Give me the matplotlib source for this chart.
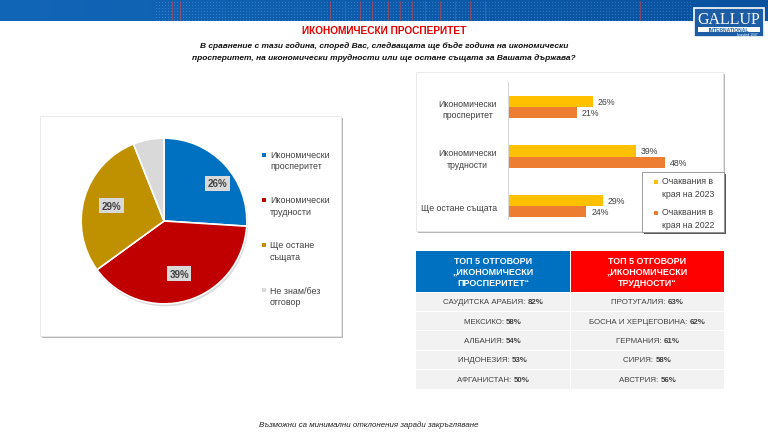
import matplotlib.pyplot as plt
import numpy as np
from matplotlib.patches import Rectangle, Circle

plt.rcParams['font.family'] = ['Liberation Sans', 'DejaVu Sans']

# --- данни ---
title = 'ИКОНОМИЧЕСКИ ПРОСПЕРИТЕТ'
question = ['В сравнение с тази година, според Вас, следващата ще бъде година на икономически',
            'просперитет, на икономически трудности или ще остане същата за Вашата държава?']
note = 'Възможни са минимални отклонения заради закръгляване'

pie_labels = ['Икономически\nпросперитет', 'Икономически\nтрудности', 'Ще остане\nсъщата', 'Не знам/без\nотговор']
pie_values = [26, 39, 29, 6]
pie_colors = ['#0070C0', '#C00000', '#BF9000', '#D9D9D9']

bar_cats = ['Икономически\nпросперитет', 'Икономически\nтрудности', 'Ще остане същата']
exp_2023 = [26, 39, 29]
exp_2022 = [21, 48, 24]
bar_series = ['Очаквания в\nкрая на 2023', 'Очаквания в\nкрая на 2022']
bar_colors = ['#FFC000', '#ED7D31']

head_prosp = 'ТОП 5 ОТГОВОРИ\n„ИКОНОМИЧЕСКИ\nПРОСПЕРИТЕТ“'
countries_prosp = ['САУДИТСКА АРАБИЯ', 'МЕКСИКО', 'АЛБАНИЯ', 'ИНДОНЕЗИЯ', 'АФГАНИСТАН']
values_prosp = [82, 58, 54, 53, 50]
head_diff = 'ТОП 5 ОТГОВОРИ\n„ИКОНОМИЧЕСКИ\nТРУДНОСТИ“'
countries_diff = ['ПРОТУГАЛИЯ', 'БОСНА И ХЕРЦЕГОВИНА', 'ГЕРМАНИЯ', 'СИРИЯ', 'АВСТРИЯ']
values_diff = [63, 62, 61, 58, 56]

W, H = 768, 435
TXT = '#404040'

fig = plt.figure(figsize=(W / 100, H / 100), dpi=100)

# фон в пиксели
bg = fig.add_axes([0, 0, 1, 1])
bg.set_axis_off()

# банер отгоре
cols = np.linspace(0, 1, W)
base = np.zeros((22, W, 3))
base[..., 0] = 0.07 - 0.03 * cols
base[..., 1] = 0.40 - 0.08 * cols
base[..., 2] = 0.72 - 0.10 * cols
dots = np.zeros((22, W))
dots[::3, ::3] = 1
mask = ((cols > 0.2) & (cols < 0.9)).astype(float)
base += (dots * mask * 0.12)[..., None]
bg.imshow(np.clip(base, 0, 1), extent=(0, W, 22, 0), aspect='auto', zorder=0)
for xr in [172, 180, 330, 345, 360, 372, 388, 400, 412, 425, 440, 455, 470, 485, 640]:
    bg.plot([xr, xr], [2, 21], color='#d04040', lw=0.6, alpha=0.7)
bg.set_xlim(0, W)
bg.set_ylim(H, 0)

# лого
bg.add_patch(Rectangle((694, 9), 70, 29, fc='#1c5da6', ec='white', lw=1.2, zorder=3))
bg.text(729, 19.5, 'GALLUP', color='white', fontsize=11.5, family='Liberation Serif',
        ha='center', va='center', zorder=4)
bg.add_patch(Rectangle((698, 27.5), 62, 5, fc='white', ec='none', zorder=4))
bg.text(729, 30.2, 'INTERNATIONAL', color='#1c5da6', fontsize=3.6, weight='bold',
        ha='center', va='center', zorder=5)
bg.text(758, 35.5, 'founded 1947', color='white', fontsize=2.4, ha='right', va='center', zorder=5)

# заглавие
bg.text(384, 31, title, color='#E30000', fontsize=7.3, weight='bold', ha='center', va='center')
for i, line in enumerate(question):
    bg.text(384, 46 + 12 * i, line, fontsize=6.0, weight='bold', style='italic',
            ha='center', va='center', color='#111111')

# панели със сянка
def panel(x0, y0, x1, y1, shade='#b8b8b8', edge='#e6e6e6', z=1):
    bg.add_patch(Rectangle((x0 + 2, y0 + 2), x1 - x0, y1 - y0, fc=shade, ec='none', zorder=z))
    bg.add_patch(Rectangle((x0, y0), x1 - x0, y1 - y0, fc='white', ec=edge, lw=0.6, zorder=z + 0.1))

panel(40, 117, 341, 337)
panel(416, 73, 723, 232)

# --- кръгова диаграма ---
cx, cy, r = 164, 222, 87
pax = fig.add_axes([(cx - r) / W, 1 - (cy + r) / H, 2 * r / W, 2 * r / H])
pax.add_patch(Circle((0.015, -0.03), 1.0, fc='#9a9a9a', ec='none', alpha=0.35, zorder=0))
wedges, _ = pax.pie(pie_values, colors=pie_colors, startangle=90, counterclock=False,
                    wedgeprops=dict(edgecolor='white', linewidth=1.2))
pax.set_xlim(-1.05, 1.05)
pax.set_ylim(-1.05, 1.05)
pax.set_aspect('equal')
for w, v in zip(wedges[:3], pie_values[:3]):
    ang = np.deg2rad((w.theta1 + w.theta2) / 2 - (8 if v < 27 else 0))
    d = 0.79 if v < 27 else 0.66
    pax.text(d * np.cos(ang), d * np.sin(ang), f'{v}%', fontsize=7, weight='bold', color=TXT,
             ha='center', va='center',
             bbox=dict(boxstyle='square,pad=0.25', fc='#d9d9d9', ec='none'))

for i, (lab, col) in enumerate(zip(pie_labels, pie_colors)):
    yy = 161 + 45.3 * i
    bg.add_patch(Rectangle((261.5, yy - 7.5), 4, 4, fc=col, ec='none', zorder=3))
    bg.text(270, yy, lab, fontsize=6.4, color=TXT, ha='left', va='center', linespacing=1.35, zorder=3)

# --- хоризонтални стълбове ---
bax = fig.add_axes([508 / W, 1 - 232 / H, (715 - 508) / W, (232 - 83) / H])
bax.patch.set_alpha(0)
ypos = np.arange(len(bar_cats))
bh = 0.225
b1 = bax.barh(ypos - bh / 2, exp_2023, height=bh, color=bar_colors[0], label=bar_series[0])
b2 = bax.barh(ypos + bh / 2, exp_2022, height=bh, color=bar_colors[1], label=bar_series[1])
bax.set_xlim(0, (715 - 508) / 3.27)
bax.set_ylim(2.5, -0.5)
for bars, vals in [(b1, exp_2023), (b2, exp_2022)]:
    for b, v in zip(bars, vals):
        bax.text(v + 1.5, b.get_y() + b.get_height() / 2, f'{v}%', fontsize=6.3, color=TXT,
                 ha='left', va='center')
bax.set_yticks(ypos)
bax.set_yticklabels(bar_cats, fontsize=6.3, color=TXT, linespacing=1.35)
for lbl in bax.get_yticklabels():
    lbl.set_multialignment('center')
bax.tick_params(axis='y', length=0, pad=8)
bax.set_xticks([])
for s in ['top', 'right', 'bottom']:
    bax.spines[s].set_visible(False)
bax.spines['left'].set_color('#d9d9d9')
bax.spines['left'].set_bounds(2.25, -0.5)

# легенда на стълбовете (рамка със сянка)
panel(642, 173, 724, 233, shade='#595959', edge='#8c8c8c', z=4)
for i, (lab, col) in enumerate(zip(bar_series, bar_colors)):
    yy = 188 + 31 * i
    bg.add_patch(Rectangle((653.5, yy - 7.5), 4.5, 4.5, fc=col, ec='none', zorder=5))
    bg.text(662, yy, lab, fontsize=6.3, color=TXT, ha='left', va='center',
            linespacing=1.45, zorder=5)

# --- таблици ---
bg.add_patch(Rectangle((416, 252), 154, 41, fc='#0070C0', ec='none', zorder=2))
bg.add_patch(Rectangle((571, 252), 153, 41, fc='#FF0000', ec='none', zorder=2))
bg.text(493, 272.5, head_prosp, color='white', fontsize=6.4, weight='bold', ha='center',
        va='center', linespacing=1.33, zorder=3)
bg.text(647.5, 272.5, head_diff, color='white', fontsize=6.4, weight='bold', ha='center',
        va='center', linespacing=1.33, zorder=3)

rh = 19.4
for i in range(5):
    y0 = 293 + i * rh
    bg.add_patch(Rectangle((416, y0 + 0.5), 154, rh - 1, fc='#f2f2f2', ec='none', zorder=2))
    bg.add_patch(Rectangle((571, y0 + 0.5), 153, rh - 1, fc='#f2f2f2', ec='none', zorder=2))

fig.canvas.draw()
rend = fig.canvas.get_renderer()
for cxx, names, vals in [(493, countries_prosp, values_prosp), (647.5, countries_diff, values_diff)]:
    for i, (n, v) in enumerate(zip(names, vals)):
        yy = 293 + i * rh + rh / 2
        t1 = bg.text(0, yy, n + ': ', fontsize=5.7, color=TXT, ha='left', va='center', zorder=3)
        t2 = bg.text(0, yy, f'{v}%', fontsize=5.7, color=TXT, weight='bold', ha='left',
                     va='center', zorder=3)
        w1 = t1.get_window_extent(rend).width
        w2 = t2.get_window_extent(rend).width
        x0 = cxx - (w1 + w2) / 2
        t1.set_x(x0)
        t2.set_x(x0 + w1)

# бележка
bg.text(369, 425, note, fontsize=5.7, style='italic', color='#222222', ha='center', va='center')

fig.savefig('out.png', dpi=100)
